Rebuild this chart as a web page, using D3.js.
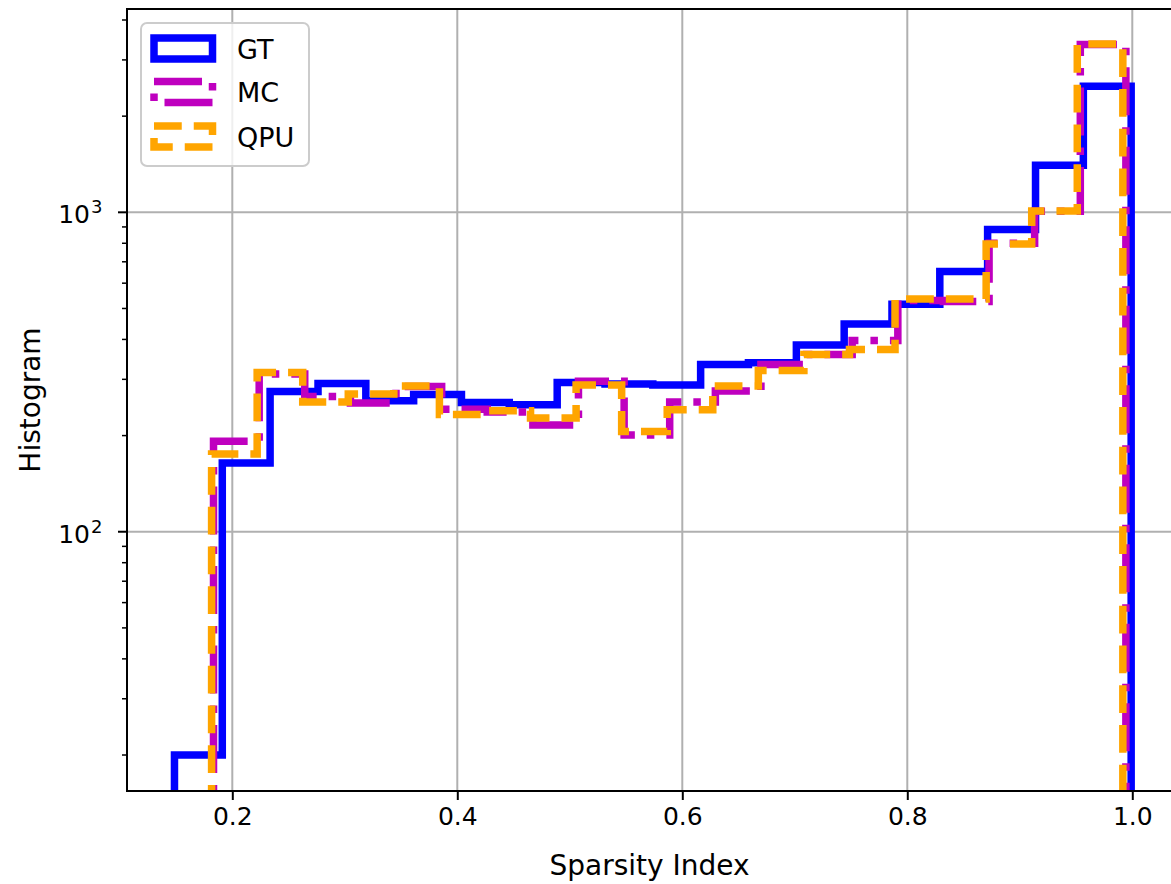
<!DOCTYPE html>
<html>
<head>
<meta charset="utf-8">
<script src="https://cdn.jsdelivr.net/npm/d3@7"></script>
<style>
  html, body { margin: 0; padding: 0; background: #fff; }
  svg { display: block; font-family: "DejaVu Sans", sans-serif; }
</style>
</head>
<body>
<div id="chart"></div>
<script>
// bin edges (each series was binned on its own range)
const gtEdges = [0.1486, 0.1911, 0.2336, 0.2762, 0.3187, 0.3612, 0.4037, 0.4462, 0.4888, 0.5313, 0.5738,
  0.6163, 0.6588, 0.7014, 0.7439, 0.7864, 0.8289, 0.8714, 0.9140, 0.9565, 0.9990]
const mcEdges = [0.1833, 0.2239, 0.2644, 0.3050, 0.3455, 0.3861, 0.4266, 0.4672, 0.5077, 0.5483, 0.5888,
  0.6294, 0.6699, 0.7105, 0.7510, 0.7916, 0.8321, 0.8727, 0.9132, 0.9538, 0.9943]
const qpuEdges = [0.1816, 0.2221, 0.2626, 0.3031, 0.3436, 0.3841, 0.4246, 0.4651, 0.5056, 0.5461, 0.5866,
  0.6271, 0.6676, 0.7081, 0.7486, 0.7891, 0.8296, 0.8701, 0.9106, 0.9511, 0.9916]

// counts per bin
const gtCounts = [20, 164, 275, 291, 257, 269, 254, 250, 293, 290, 288, 334, 338, 384, 447, 515, 653, 884, 1404, 2483]
const mcCounts = [192, 312, 265, 253, 285, 242, 237, 216, 296, 201, 255, 276, 334, 359, 397, 530, 526, 800, 1008, 3350]
const qpuCounts = [175, 315, 255, 270, 286, 233, 239, 227, 288, 206, 241, 286, 320, 359, 372, 535, 535, 796, 1010, 3363]

const xTicks = [0.2, 0.4, 0.6, 0.8, 1.0]
const yMajor = [100, 1000]
const yMinor = [20, 30, 40, 50, 60, 70, 80, 90, 200, 300, 400, 500, 600, 700, 800, 900, 2000, 3000, 4000]

const width = 1171
const height = 884
const plot = { left: 127, top: 9, right: 1172, bottom: 791 }
const lw = 7.5

const x = d3.scaleLinear().domain([0.1064, 1.0353]).range([plot.left, plot.right])
const y = d3.scaleLog().domain([15.43, 4330]).range([plot.bottom, plot.top])

const svg = d3.select("#chart").append("svg")
  .attr("width", width).attr("height", height)

svg.append("defs").append("clipPath").attr("id", "plot-clip")
  .append("rect")
  .attr("x", plot.left).attr("y", plot.top)
  .attr("width", plot.right - plot.left).attr("height", plot.bottom - plot.top)

// grid
const grid = svg.append("g").attr("stroke", "#b0b0b0").attr("stroke-width", 2)
grid.selectAll("line.vx").data(xTicks).join("line")
  .attr("x1", d => x(d)).attr("x2", d => x(d))
  .attr("y1", plot.top).attr("y2", plot.bottom)
grid.selectAll("line.hy").data(yMajor).join("line")
  .attr("x1", plot.left).attr("x2", plot.right)
  .attr("y1", d => y(d)).attr("y2", d => y(d))

// step outline like matplotlib histtype="step"; bottom goes below the axis and is clipped
function stepPoints(edges, counts) {
  const floor = 1
  const pts = [[edges[0], floor]]
  counts.forEach((c, i) => {
    pts.push([edges[i], c])
    pts.push([edges[i + 1], c])
  })
  pts.push([edges[edges.length - 1], floor])
  return pts
}

const line = d3.line().x(d => x(d[0])).y(d => y(d[1]))

const series = [
  { label: "GT", edges: gtEdges, counts: gtCounts, color: "#0000ff", dash: null },
  { label: "MC", edges: mcEdges, counts: mcCounts, color: "#bf00bf", dash: `${6.4 * lw},${1.6 * lw},${lw},${1.6 * lw}` },
  { label: "QPU", edges: qpuEdges, counts: qpuCounts, color: "#ffa500", dash: `${3.7 * lw},${1.6 * lw}` }
]

const marks = svg.append("g").attr("clip-path", "url(#plot-clip)")
series.forEach(s => {
  marks.append("path")
    .attr("d", line(stepPoints(s.edges, s.counts)))
    .attr("fill", "none")
    .attr("stroke", s.color)
    .attr("stroke-width", lw)
    .attr("stroke-linejoin", "miter")
    .attr("stroke-linecap", "butt")
    .attr("stroke-dasharray", s.dash)
})

// x axis
const xAxis = svg.append("g")
  .attr("transform", `translate(0,${plot.bottom})`)
  .call(d3.axisBottom(x).tickValues(xTicks).tickFormat(d3.format(".1f")).tickSize(9).tickPadding(7))
xAxis.select(".domain").remove()
xAxis.selectAll(".tick line").attr("stroke", "#000").attr("stroke-width", 2)
xAxis.selectAll(".tick text").attr("font-size", 25).attr("fill", "#000")
  .attr("font-family", "DejaVu Sans")

// y axis: major ticks with 10^n labels, minor ticks
const yAxis = svg.append("g").attr("transform", `translate(${plot.left},0)`)
yAxis.selectAll("line.minor").data(yMinor).join("line")
  .attr("x1", 0).attr("x2", -5)
  .attr("y1", d => y(d)).attr("y2", d => y(d))
  .attr("stroke", "#000").attr("stroke-width", 1.5)
yAxis.selectAll("line.major").data(yMajor).join("line")
  .attr("x1", 0).attr("x2", -9)
  .attr("y1", d => y(d)).attr("y2", d => y(d))
  .attr("stroke", "#000").attr("stroke-width", 2)
const yLab = yAxis.selectAll("g.lab").data(yMajor).join("g")
  .attr("transform", d => `translate(0,${y(d)})`)
yLab.append("text")
  .attr("x", -37).attr("y", 11)
  .attr("text-anchor", "end").attr("font-size", 25)
  .text("10")
yLab.append("text")
  .attr("x", -36).attr("y", 1)
  .attr("text-anchor", "start").attr("font-size", 18)
  .text(d => Math.round(Math.log10(d)))

// spines
svg.append("rect")
  .attr("x", plot.left).attr("y", plot.top)
  .attr("width", plot.right - plot.left).attr("height", plot.bottom - plot.top)
  .attr("fill", "none").attr("stroke", "#000").attr("stroke-width", 2)

// axis labels
svg.append("text")
  .attr("x", (plot.left + plot.right) / 2).attr("y", 875)
  .attr("text-anchor", "middle").attr("font-size", 28)
  .text("Sparsity Index")
svg.append("text")
  .attr("transform", `translate(40,${(plot.top + plot.bottom) / 2}) rotate(-90)`)
  .attr("text-anchor", "middle").attr("font-size", 28)
  .text("Histogram")

// legend
const legend = svg.append("g")
legend.append("rect")
  .attr("x", 141).attr("y", 23).attr("width", 168).attr("height", 143)
  .attr("rx", 6).attr("ry", 6)
  .attr("fill", "#fff").attr("fill-opacity", 0.8)
  .attr("stroke", "#cccccc").attr("stroke-width", 2)
const rowY = [48.5, 92, 136.5]
series.forEach((s, i) => {
  legend.append("rect")
    .attr("x", 154).attr("y", rowY[i] - 10.5)
    .attr("width", 58.5).attr("height", 21)
    .attr("fill", "none")
    .attr("stroke", s.color).attr("stroke-width", lw)
    .attr("stroke-linejoin", "miter")
    .attr("stroke-dasharray", s.dash)
  legend.append("text")
    .attr("x", 237).attr("y", rowY[i] + 10)
    .attr("font-size", 27)
    .text(s.label)
})
</script>
</body>
</html>
